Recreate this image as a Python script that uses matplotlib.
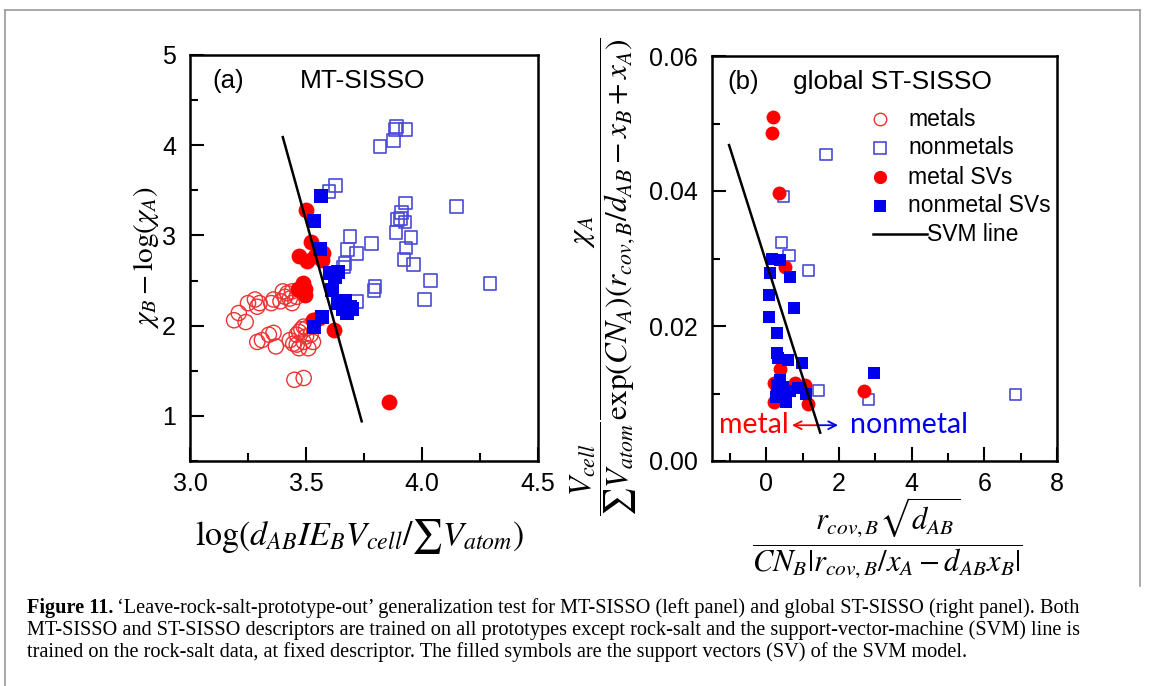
import matplotlib
matplotlib.use("Agg")
import matplotlib.pyplot as plt
from matplotlib.lines import Line2D
from matplotlib.ticker import MultipleLocator

plt.rcParams['font.family'] = ['Liberation Sans', 'DejaVu Sans']
plt.rcParams['mathtext.fontset'] = 'stix'

# ---------------- panel (a): MT-SISSO ----------------
a_metal_x = [3.19, 3.24, 3.21, 3.25, 3.28, 3.29, 3.30, 3.35, 3.36, 3.39, 3.40, 3.42,
             3.44, 3.43, 3.44, 3.46, 3.41, 3.29, 3.31, 3.34, 3.36, 3.37, 3.43, 3.445,
             3.46, 3.49, 3.51, 3.47, 3.53, 3.47, 3.49, 3.50, 3.46, 3.52, 3.50, 3.48,
             3.45, 3.49]
a_metal_y = [2.06, 2.04, 2.14, 2.25, 2.29, 2.21, 2.25, 2.25, 2.29, 2.27, 2.38, 2.36,
             2.38, 2.30, 2.25, 2.32, 2.32, 1.82, 1.84, 1.90, 1.92, 1.77, 1.84, 1.80,
             1.79, 1.82, 1.75, 1.75, 1.82, 1.93, 1.99, 1.97, 1.90, 1.90, 1.88, 1.96,
             1.40, 1.42]

a_nonmetal_x = [3.891, 3.887, 3.930, 3.876, 3.819, 3.626, 3.599, 3.930, 4.149, 3.912,
                3.908, 3.927, 3.895, 3.690, 3.888, 3.953, 3.783, 3.931, 3.680, 3.718,
                3.922, 3.963, 3.668, 3.660, 4.037, 4.293, 3.797, 3.793, 4.010, 3.719]
a_nonmetal_y = [4.21, 4.17, 4.17, 4.05, 3.99, 3.55, 3.49, 3.36, 3.32, 3.25,
                3.19, 3.15, 3.18, 2.99, 3.03, 2.98, 2.91, 2.86, 2.84, 2.80,
                2.73, 2.68, 2.69, 2.65, 2.50, 2.47, 2.43, 2.39, 2.29, 2.27]

a_metal_sv_x = [3.499, 3.520, 3.471, 3.503, 3.539, 3.575, 3.568, 3.489, 3.496, 3.496,
                3.467, 3.532, 3.555, 3.621, 3.858]
a_metal_sv_y = [3.28, 2.93, 2.77, 2.72, 2.77, 2.80, 2.73, 2.47, 2.41, 2.34,
                2.41, 2.06, 2.09, 1.95, 1.15]

a_nonmetal_sv_x = [3.563, 3.534, 3.560, 3.603, 3.639, 3.625, 3.611, 3.668, 3.639, 3.690,
                   3.675, 3.700, 3.661, 3.571, 3.536]
a_nonmetal_sv_y = [3.44, 3.16, 2.85, 2.58, 2.60, 2.54, 2.40, 2.27, 2.25, 2.21,
                   2.14, 2.18, 2.19, 2.10, 1.99]

a_svm_x = [3.40, 3.74]
a_svm_y = [4.09, 0.94]

# ---------------- panel (b): global ST-SISSO ----------------
b_nonmetal_x = [1.64, 0.47, 0.41, 0.62, 1.15, 1.43, 2.82, 6.85]
b_nonmetal_y = [0.0454, 0.0392, 0.0324, 0.0305, 0.0282, 0.0105, 0.0091, 0.0098]

b_metal_sv_x = [0.18, 0.16, 0.34, 0.50, 0.36, 0.22, 0.78, 1.06, 0.22, 1.15, 2.68, 0.30, 0.40]
b_metal_sv_y = [0.0510, 0.0486, 0.0397, 0.0287, 0.0137, 0.0115, 0.0115, 0.0113,
                0.0088, 0.0085, 0.0103, 0.0105, 0.0090]

b_nonmetal_sv_x = [0.15, 0.36, 0.10, 0.64, 0.08, 0.76, 0.06, 0.29, 0.29, 0.31, 0.59,
                   0.99, 0.36, 0.45, 0.64, 0.27, 0.55, 1.10, 0.87, 0.40, 0.30, 2.96]
b_nonmetal_sv_y = [0.0300, 0.0298, 0.0278, 0.0272, 0.0246, 0.0226, 0.0214, 0.0189,
                   0.0160, 0.0152, 0.0150, 0.0145, 0.0120, 0.0110, 0.0103, 0.0095,
                   0.0088, 0.0100, 0.0108, 0.0100, 0.0112, 0.0131]

b_svm_x = [-1.03, 1.48]
b_svm_y = [0.0468, 0.0042]

legend_labels = ['metals', 'nonmetals', 'metal SVs', 'nonmetal SVs', 'SVM line']

RED = '#ff0000'
BLUE = '#0000ee'
OPEN_RED = '#ee3333'
OPEN_BLUE = '#4a4ad8'

W, H = 1153, 686
fig = plt.figure(figsize=(W / 100, H / 100), dpi=100)


def frac_box(x0, y0, x1, y1):
    return [x0 / W, 1 - y1 / H, (x1 - x0) / W, (y1 - y0) / H]


ax1 = fig.add_axes(frac_box(190, 55, 538, 461))
ax2 = fig.add_axes(frac_box(712, 56, 1057, 461))


def style_axes(ax):
    for s in ax.spines.values():
        s.set_linewidth(1.8)
        s.set_color('black')
    ax.tick_params(which='both', direction='in', top=False, right=False,
                   width=1.5, labelsize=18)
    ax.tick_params(which='major', length=10)
    ax.tick_params(which='minor', length=5.5)
    ax.tick_params(axis='y', pad=10)
    ax.tick_params(axis='x', pad=8)


# panel (a)
ax1.scatter(a_metal_x, a_metal_y, s=120, marker='o', facecolors='none',
            edgecolors=OPEN_RED, linewidths=1.0, zorder=2)
ax1.scatter(a_nonmetal_x, a_nonmetal_y, s=85, marker='s', facecolors='none',
            edgecolors=OPEN_BLUE, linewidths=1.2, zorder=2)
ax1.scatter(a_metal_sv_x, a_metal_sv_y, s=130, marker='o', color=RED,
            linewidths=0, zorder=3)
ax1.scatter(a_nonmetal_sv_x, a_nonmetal_sv_y, s=100, marker='s', color=BLUE,
            linewidths=0, zorder=4)
ax1.plot(a_svm_x, a_svm_y, color='black', lw=1.8, zorder=5)
ax1.set_xlim(3.0, 4.5)
ax1.set_ylim(0.5, 5.0)
ax1.xaxis.set_major_locator(MultipleLocator(0.5))
ax1.xaxis.set_minor_locator(MultipleLocator(0.25))
ax1.yaxis.set_major_locator(MultipleLocator(1))
ax1.yaxis.set_minor_locator(MultipleLocator(0.5))
ax1.xaxis.set_major_formatter(plt.FuncFormatter(lambda v, p: f'{v:.1f}'))
ax1.yaxis.set_major_formatter(plt.FuncFormatter(lambda v, p: f'{v:.0f}'))
style_axes(ax1)
ax1.text(0.11, 0.935, '(a)', transform=ax1.transAxes, fontsize=18.5,
         ha='center', va='center')
ax1.text(0.497, 0.935, 'MT-SISSO', transform=ax1.transAxes, fontsize=19,
         ha='center', va='center')

# panel (b)
ax2.scatter(b_nonmetal_x, b_nonmetal_y, s=65, marker='s', facecolors='none',
            edgecolors=OPEN_BLUE, linewidths=1.2, zorder=2)
ax2.scatter(b_metal_sv_x, b_metal_sv_y, s=100, marker='o', color=RED,
            linewidths=0, zorder=3)
ax2.scatter(b_nonmetal_sv_x, b_nonmetal_sv_y, s=85, marker='s', color=BLUE,
            linewidths=0, zorder=4)
ax2.plot(b_svm_x, b_svm_y, color='black', lw=1.8, zorder=5)
ax2.set_xlim(-1.5, 8.0)
ax2.set_ylim(0.0, 0.06)
ax2.xaxis.set_major_locator(MultipleLocator(2))
ax2.xaxis.set_minor_locator(MultipleLocator(1))
ax2.yaxis.set_major_locator(MultipleLocator(0.02))
ax2.yaxis.set_minor_locator(MultipleLocator(0.01))
ax2.xaxis.set_major_formatter(plt.FuncFormatter(lambda v, p: f'{v:.0f}'))
ax2.yaxis.set_major_formatter(plt.FuncFormatter(lambda v, p: f'{v:.2f}'))
style_axes(ax2)
ax2.text(0.09, 0.935, '(b)', transform=ax2.transAxes, fontsize=18.5,
         ha='center', va='center')
ax2.text(0.235, 0.935, 'global ST-SISSO', transform=ax2.transAxes, fontsize=19,
         ha='left', va='center')

# hand-built legend inside panel (b)
leg_rows = [0.844, 0.773, 0.701, 0.630]
leg_styles = [dict(marker='o', mfc='none', mec=OPEN_RED, ms=9, mew=1.0),
              dict(marker='s', mfc='none', mec=OPEN_BLUE, ms=8, mew=1.2),
              dict(marker='o', mfc=RED, mec=RED, ms=9.5, mew=0),
              dict(marker='s', mfc=BLUE, mec=BLUE, ms=8.5, mew=0)]
for yy, lab, st in zip(leg_rows, legend_labels[:4], leg_styles):
    ax2.add_line(Line2D([0.487], [yy], transform=ax2.transAxes, ls='none', **st))
    ax2.text(0.568, yy, lab, transform=ax2.transAxes, fontsize=16.5,
             ha='left', va='center')
ax2.add_line(Line2D([0.467, 0.623], [0.560, 0.560], transform=ax2.transAxes,
                    color='black', lw=1.8))
ax2.text(0.623, 0.560, legend_labels[4], transform=ax2.transAxes, fontsize=16.5,
         ha='left', va='center')

# metal / nonmetal side marker under the SVM line
side_y = 0.0053
ax2.text(-1.31, side_y, 'metal', color=RED, fontsize=20.5, family='Lato',
         ha='left', va='center')
ax2.annotate('', xy=(0.70, side_y), xytext=(1.40, side_y),
             arrowprops=dict(arrowstyle='->', color=RED, lw=1.3,
                             shrinkA=0, shrinkB=0, mutation_scale=14))
ax2.annotate('', xy=(1.97, side_y), xytext=(1.46, side_y),
             arrowprops=dict(arrowstyle='->', color=BLUE, lw=1.3,
                             shrinkA=0, shrinkB=0, mutation_scale=14))
ax2.text(2.31, side_y, 'nonmetal', color=BLUE, fontsize=20.5, family='Lato',
         ha='left', va='center')

# axis titles (mathtext formulas)
fig.text(360 / W, 1 - 537 / H,
         r'$\log(d_{AB}IE_{B}V_{cell}/\sum V_{atom})$',
         fontsize=24.5, ha='center', va='center')
fig.text(146 / W, 1 - 258 / H, r'$\chi_B-\log(\chi_A)$',
         fontsize=21, ha='center', va='center', rotation=90)
fig.text(887 / W, 1 - 538 / H,
         r'$\dfrac{r_{cov,B}\sqrt{d_{AB}}}{CN_B|r_{cov,B}/x_A-d_{AB}x_B|}$',
         fontsize=22, ha='center', va='center')
fig.text(604 / W, 1 - 277 / H,
         r'$\dfrac{V_{cell}}{\sum V_{atom}}\dfrac{\chi_A}{\exp(CN_A)(r_{cov,B}/d_{AB}-x_B+x_A)}$',
         fontsize=22.5, ha='center', va='center', rotation=90)

# frame around the figure
fig.add_artist(Line2D([5 / W, 5 / W], [0, 1 - 10 / H], color='#999999', lw=1.2))
fig.add_artist(Line2D([5 / W, 1140 / W], [1 - 10 / H, 1 - 10 / H], color='#999999', lw=1.2))
fig.add_artist(Line2D([1140 / W, 1140 / W], [1 - 10 / H, 1 - 586 / H], color='#999999', lw=1.2))

# caption
cap_font = dict(family='Liberation Serif', fontsize=14.6, va='baseline')
renderer = fig.canvas.get_renderer()
t0 = fig.text(27 / W, 1 - 613 / H, 'Figure 11.', weight='bold', **cap_font)
bb = t0.get_window_extent(renderer)
fig.text(bb.x1 / W + 4 / W, 1 - 613 / H,
         '\u2018Leave-rock-salt-prototype-out\u2019 generalization test for MT-SISSO (left panel) '
         'and global ST-SISSO (right panel). Both', **cap_font)
fig.text(27 / W, 1 - 635 / H,
         'MT-SISSO and ST-SISSO descriptors are trained on all prototypes except rock-salt and '
         'the support-vector-machine (SVM) line is', **cap_font)
fig.text(27 / W, 1 - 657 / H,
         'trained on the rock-salt data, at fixed descriptor. The filled symbols are the support '
         'vectors (SV) of the SVM model.', **cap_font)

fig.savefig('out.png', dpi=100)
